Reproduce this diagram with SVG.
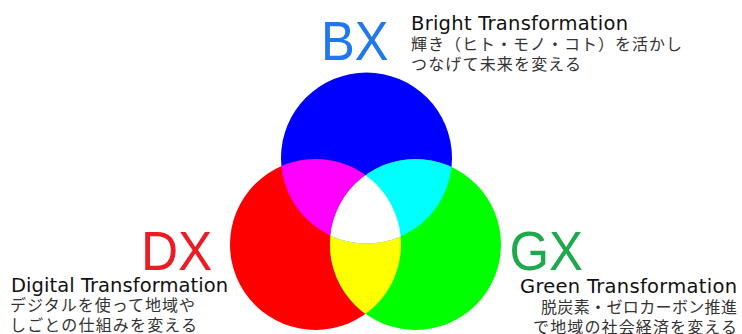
<svg xmlns="http://www.w3.org/2000/svg" width="742" height="334" viewBox="0 0 742 334">
<style>
.big{font-family:"Liberation Sans",Arial,sans-serif;font-size:56px}
.en{font-family:"DejaVu Sans","Liberation Sans",sans-serif;font-size:19.5px;fill:#111}
.jp{font-family:"Noto Sans CJK JP","Noto Sans",sans-serif;font-size:16px;fill:#333}
</style>
<defs>
<clipPath id="cR"><circle cx="315.5" cy="244.5" r="85.5"/></clipPath>
<clipPath id="cG"><circle cx="415.5" cy="244.5" r="85.5"/></clipPath>
</defs>
<rect width="742" height="334" fill="#fff"/>
<g id="bx">
<circle cx="366.5" cy="158" r="85.5" fill="#0000ff"/>
<text class="big" x="321" y="60" font-size="53" fill="#1f78ec" textLength="67.5" lengthAdjust="spacingAndGlyphs">BX</text>
<text class="en" x="411" y="29.5" textLength="217">Bright Transformation</text>
<text class="jp" x="411" y="49.5" textLength="271">輝き（ヒト・モノ・コト）を活かし</text>
<text class="jp" x="411" y="69.5" textLength="170">つなげて未来を変える</text>
</g>
<g id="dx">
<circle cx="315.5" cy="244.5" r="85.5" fill="#ff0000"/>
<text class="big" x="141" y="270" fill="#ec1c24" textLength="71.4" lengthAdjust="spacingAndGlyphs">DX</text>
<text class="en" x="11" y="292" textLength="217">Digital Transformation</text>
<text class="jp" x="10" y="311" textLength="185">デジタルを使って地域や</text>
<text class="jp" x="10" y="331" textLength="187">しごとの仕組みを変える</text>
</g>
<g id="gx">
<circle cx="415.5" cy="244.5" r="85.5" fill="#00ff00"/>
<text class="big" x="509.5" y="270" fill="#1ea94c" textLength="73.6" lengthAdjust="spacingAndGlyphs">GX</text>
<text class="en" x="520" y="293" textLength="217">Green Transformation</text>
<text class="jp" x="541" y="313" textLength="196">脱炭素・ゼロカーボン推進</text>
<text class="jp" x="533" y="333" textLength="204">で地域の社会経済を変える</text>
</g>
<g id="overlaps">
<circle cx="415.5" cy="244.5" r="85.5" fill="#ffff00" clip-path="url(#cR)"/>
<circle cx="366.5" cy="158" r="85.5" fill="#ff00ff" clip-path="url(#cR)"/>
<circle cx="366.5" cy="158" r="85.5" fill="#00ffff" clip-path="url(#cG)"/>
<g clip-path="url(#cG)"><circle cx="366.5" cy="158" r="85.5" fill="#ffffff" clip-path="url(#cR)"/></g>
</g>
</svg>
